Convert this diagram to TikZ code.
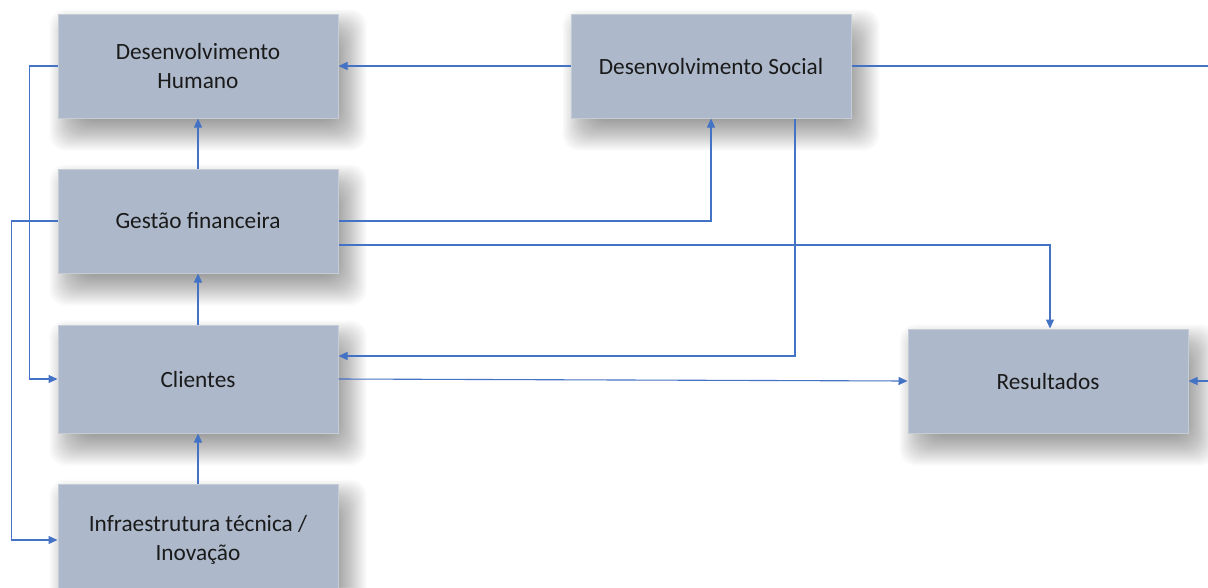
\documentclass[tikz,border=0pt]{standalone}
\usepackage{fontspec}
\setmainfont{Carlito}
\usetikzlibrary{arrows.meta,calc}
\definecolor{boxfill}{HTML}{ADB9CA}
\definecolor{boxedge}{HTML}{C6CCD6}
\definecolor{linkblue}{HTML}{4472C4}
\definecolor{ink}{HTML}{1A1A1A}
\pgfdeclarelayer{paper}
\pgfdeclarelayer{shade}
\pgfsetlayers{paper,shade,main}
\begin{document}
\begin{tikzpicture}[x=1pt,y=-1pt,
  block/.style={rectangle, fill=boxfill, draw=boxedge, line width=1pt,
    minimum width=280pt, minimum height=104pt, align=center,
    text=ink, font=\fontsize{23.3}{29}\selectfont},
  link/.style={draw=linkblue, line width=1.1pt},
  arr/.style={link, -{Triangle[length=9pt,width=8pt]}}]
\useasboundingbox (0,0) rectangle (1208,587);
\begin{pgfonlayer}{paper}
  \fill[white] (0,0) rectangle (1208,587);
\end{pgfonlayer}

% boxes
\node[block] (dh)  at (198,66)   {Desenvolvimento\\Humano};
\node[block] (ds)  at (711,66)   {Desenvolvimento Social};
\node[block] (gf)  at (198,221)  {Gestão financeira};
\node[block, minimum height=108pt] (cl) at (198,379) {Clientes};
\node[block] (res) at (1048,381) {Resultados};
\node[block, minimum height=112pt] (inf) at (198,540) {Infraestrutura técnica /\\Inovação};

% soft drop shadows: stacked translucent layers, offset down and right
\begin{pgfonlayer}{shade}
  \foreach \n in {dh,ds,gf,cl,res,inf}{
    \foreach \k in {0,...,23}{
      \pgfmathsetmacro{\ins}{\k*1.5}
      \fill[black, opacity=0.02, rounded corners=16pt]
        ($(\n.north west)+(-8+\ins,-4+\ins)$) rectangle
        ($(\n.south east)+(28-\ins,32-\ins)$);
    }
  }
\end{pgfonlayer}

% vertical chain on the left column
\draw[arr] (gf.north) -- (dh.south);
\draw[arr] (cl.north) -- (gf.south);
\draw[arr] (inf.north) -- (cl.south);

% links from Desenvolvimento Social
\draw[arr] (ds.west) -- (dh.east);
\draw[arr] (ds.east) -- ++(368,0) |- (res.east);
\draw[arr] ([xshift=84pt]ds.south) |- ([yshift=23pt]cl.east);

% links from Gestão financeira
\draw[arr] (gf.east) -| (ds.south);
\draw[arr] ([yshift=-24pt]gf.east) -| ([xshift=2pt]res.north);
\draw[arr] (gf.west) -- ++(-46,0) |- (inf.west);

% left-side loop into Clientes
\draw[arr] (dh.west) -- ++(-28,0) |- (cl.west);

% Clientes to Resultados
\draw[arr] (cl.east) -- (res.west);
\end{tikzpicture}
\end{document}
